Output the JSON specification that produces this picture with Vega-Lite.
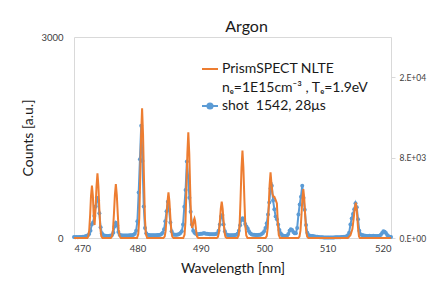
{
  "$schema": "https://vega.github.io/schema/vega-lite/v6.json",
  "width": 317,
  "height": 201,
  "autosize": {"type": "none"},
  "padding": {"left": 74, "top": 37, "right": 52, "bottom": 55},
  "background": "white",
  "title": {"text": "Argon", "fontSize": 16, "font": "Lato", "fontWeight": "normal", "color": "#1a1a1a", "anchor": "middle", "offset": -3, "dx": 14},
  "config": {
    "font": "Lato",
    "view": {"stroke": "#d9d9d9", "strokeWidth": 1},
    "axis": {"grid": false, "labelFont": "Lato", "titleFont": "Lato", "labelColor": "#404040", "titleColor": "#1a1a1a", "titleFontWeight": "normal"}
  },
  "datasets": {
    "shot": [
      {"w":470.0,"c":15},{"w":470.2,"c":12},{"w":470.4,"c":15},{"w":470.6,"c":12},{"w":470.8,"c":15},{"w":471.0,"c":14},{"w":471.2,"c":15},{"w":471.4,"c":18},{"w":471.6,"c":20},{"w":471.8,"c":25},
      {"w":472.0,"c":30},{"w":472.2,"c":40},{"w":472.4,"c":60},{"w":472.6,"c":110},{"w":472.8,"c":200},{"w":473.0,"c":230},{"w":473.2,"c":330},{"w":473.4,"c":470},{"w":473.6,"c":600},{"w":473.8,"c":560},
      {"w":474.0,"c":370},{"w":474.2,"c":160},{"w":474.4,"c":70},{"w":474.6,"c":45},{"w":474.8,"c":35},{"w":475.0,"c":32},{"w":475.2,"c":30},{"w":475.4,"c":30},{"w":475.6,"c":32},{"w":475.8,"c":35},
      {"w":476.0,"c":45},{"w":476.2,"c":80},{"w":476.4,"c":170},{"w":476.6,"c":228},{"w":476.8,"c":190},{"w":477.0,"c":90},{"w":477.2,"c":50},{"w":477.4,"c":40},{"w":477.6,"c":38},{"w":477.8,"c":38},
      {"w":478.0,"c":36},{"w":478.2,"c":36},{"w":478.4,"c":38},{"w":478.6,"c":38},{"w":478.8,"c":40},{"w":479.0,"c":40},{"w":479.2,"c":42},{"w":479.4,"c":50},{"w":479.6,"c":65},{"w":479.8,"c":110},
      {"w":480.0,"c":250},{"w":480.2,"c":680},{"w":480.4,"c":1175},{"w":480.6,"c":1677},{"w":480.8,"c":1150},{"w":481.0,"c":470},{"w":481.2,"c":150},{"w":481.4,"c":70},{"w":481.6,"c":50},{"w":481.8,"c":45},
      {"w":482.0,"c":42},{"w":482.2,"c":40},{"w":482.4,"c":40},{"w":482.6,"c":42},{"w":482.8,"c":40},{"w":483.0,"c":42},{"w":483.2,"c":45},{"w":483.4,"c":45},{"w":483.6,"c":50},{"w":483.8,"c":60},
      {"w":484.0,"c":80},{"w":484.2,"c":130},{"w":484.4,"c":250},{"w":484.6,"c":400},{"w":484.8,"c":542},{"w":485.0,"c":420},{"w":485.2,"c":230},{"w":485.4,"c":100},{"w":485.6,"c":60},{"w":485.8,"c":50},
      {"w":486.0,"c":48},{"w":486.2,"c":50},{"w":486.4,"c":52},{"w":486.6,"c":60},{"w":486.8,"c":75},{"w":487.0,"c":100},{"w":487.2,"c":200},{"w":487.4,"c":468},{"w":487.6,"c":717},{"w":487.8,"c":1140},
      {"w":488.0,"c":915},{"w":488.2,"c":600},{"w":488.4,"c":393},{"w":488.6,"c":200},{"w":488.8,"c":110},{"w":489.0,"c":80},{"w":489.2,"c":65},{"w":489.4,"c":55},{"w":489.6,"c":55},{"w":489.8,"c":60},
      {"w":490.0,"c":62},{"w":490.2,"c":65},{"w":490.4,"c":70},{"w":490.6,"c":70},{"w":490.8,"c":65},{"w":491.0,"c":62},{"w":491.2,"c":60},{"w":491.4,"c":55},{"w":491.6,"c":55},{"w":491.8,"c":55},
      {"w":492.0,"c":55},{"w":492.2,"c":55},{"w":492.4,"c":60},{"w":492.6,"c":70},{"w":492.8,"c":110},{"w":493.0,"c":200},{"w":493.2,"c":320},{"w":493.4,"c":343},{"w":493.6,"c":200},{"w":493.8,"c":100},
      {"w":494.0,"c":55},{"w":494.2,"c":45},{"w":494.4,"c":40},{"w":494.6,"c":40},{"w":494.8,"c":40},{"w":495.0,"c":40},{"w":495.2,"c":42},{"w":495.4,"c":45},{"w":495.6,"c":50},{"w":495.8,"c":65},
      {"w":496.0,"c":110},{"w":496.2,"c":190},{"w":496.4,"c":270},{"w":496.6,"c":294},{"w":496.8,"c":270},{"w":497.0,"c":210},{"w":497.2,"c":170},{"w":497.4,"c":140},{"w":497.6,"c":100},{"w":497.8,"c":70},
      {"w":498.0,"c":55},{"w":498.2,"c":50},{"w":498.4,"c":48},{"w":498.6,"c":45},{"w":498.8,"c":45},{"w":499.0,"c":45},{"w":499.2,"c":48},{"w":499.4,"c":50},{"w":499.6,"c":60},{"w":499.8,"c":75},
      {"w":500.0,"c":100},{"w":500.2,"c":150},{"w":500.4,"c":220},{"w":500.6,"c":350},{"w":500.8,"c":530},{"w":501.0,"c":740},{"w":501.2,"c":781},{"w":501.4,"c":560},{"w":501.6,"c":430},{"w":501.8,"c":320},
      {"w":502.0,"c":280},{"w":502.2,"c":200},{"w":502.4,"c":120},{"w":502.6,"c":70},{"w":502.8,"c":45},{"w":503.0,"c":35},{"w":503.2,"c":30},{"w":503.4,"c":30},{"w":503.6,"c":35},{"w":503.8,"c":60},
      {"w":504.0,"c":110},{"w":504.2,"c":130},{"w":504.4,"c":120},{"w":504.6,"c":90},{"w":504.8,"c":70},{"w":505.0,"c":70},{"w":505.2,"c":150},{"w":505.4,"c":350},{"w":505.6,"c":500},{"w":505.8,"c":617},
      {"w":506.0,"c":781},{"w":506.2,"c":600},{"w":506.4,"c":420},{"w":506.6,"c":194},{"w":506.8,"c":80},{"w":507.0,"c":45},{"w":507.2,"c":35},{"w":507.4,"c":30},{"w":507.6,"c":28},{"w":507.8,"c":25},
      {"w":508.0,"c":22},{"w":508.2,"c":20},{"w":508.4,"c":18},{"w":508.6,"c":15},{"w":508.8,"c":12},{"w":509.0,"c":10},{"w":509.2,"c":10},{"w":509.4,"c":8},{"w":509.6,"c":8},{"w":509.8,"c":8},
      {"w":510.0,"c":8},{"w":510.2,"c":8},{"w":510.4,"c":8},{"w":510.6,"c":8},{"w":510.8,"c":8},{"w":511.0,"c":8},{"w":511.2,"c":10},{"w":511.4,"c":10},{"w":511.6,"c":10},{"w":511.8,"c":12},
      {"w":512.0,"c":12},{"w":512.2,"c":14},{"w":512.4,"c":15},{"w":512.6,"c":18},{"w":512.8,"c":20},{"w":513.0,"c":25},{"w":513.2,"c":40},{"w":513.4,"c":80},{"w":513.6,"c":200},{"w":513.8,"c":290},
      {"w":514.0,"c":360},{"w":514.2,"c":430},{"w":514.4,"c":518},{"w":514.6,"c":460},{"w":514.8,"c":280},{"w":515.0,"c":110},{"w":515.2,"c":55},{"w":515.4,"c":45},{"w":515.6,"c":40},{"w":515.8,"c":35},
      {"w":516.0,"c":32},{"w":516.2,"c":30},{"w":516.4,"c":30},{"w":516.6,"c":32},{"w":516.8,"c":30},{"w":517.0,"c":30},{"w":517.2,"c":32},{"w":517.4,"c":30},{"w":517.6,"c":28},{"w":517.8,"c":28},
      {"w":518.0,"c":30},{"w":518.2,"c":35},{"w":518.4,"c":50},{"w":518.6,"c":75},{"w":518.8,"c":100},{"w":519.0,"c":95},{"w":519.2,"c":75},{"w":519.4,"c":45},{"w":519.6,"c":25},{"w":519.8,"c":18},
      {"w":520.0,"c":15}
    ],
    "nlte": [
      {"w":470.0,"v":0},{"w":472.1,"v":0},{"w":472.25,"v":160},{"w":472.4,"v":780},{"w":472.55,"v":2340},{"w":472.68,"v":4170},{"w":472.83,"v":5210},{"w":472.98,"v":4170},{"w":473.1,"v":2340},{"w":473.25,"v":1290},
      {"w":473.4,"v":2900},{"w":473.55,"v":5150},{"w":473.7,"v":6440},{"w":473.85,"v":5150},{"w":474.0,"v":2900},{"w":474.15,"v":970},{"w":474.3,"v":190},{"w":474.5,"v":0},
      {"w":475.8,"v":0},{"w":476.0,"v":161},{"w":476.15,"v":806},{"w":476.3,"v":2417},{"w":476.45,"v":4296},{"w":476.6,"v":5370},{"w":476.75,"v":4296},{"w":476.9,"v":2417},{"w":477.05,"v":806},{"w":477.2,"v":161},{"w":477.4,"v":0},
      {"w":479.94,"v":0},{"w":480.14,"v":387},{"w":480.29,"v":1935},{"w":480.44,"v":5805},{"w":480.59,"v":10320},{"w":480.74,"v":12900},{"w":480.89,"v":10320},{"w":481.04,"v":5805},{"w":481.19,"v":1935},{"w":481.34,"v":387},{"w":481.54,"v":0},
      {"w":484.1,"v":0},{"w":484.3,"v":137},{"w":484.45,"v":683},{"w":484.6,"v":2048},{"w":484.75,"v":3640},{"w":484.9,"v":4550},{"w":485.05,"v":3640},{"w":485.2,"v":2048},{"w":485.35,"v":683},{"w":485.5,"v":137},{"w":485.7,"v":0},
      {"w":487.23,"v":0},{"w":487.43,"v":316},{"w":487.58,"v":1578},{"w":487.73,"v":4734},{"w":487.88,"v":8416},{"w":488.03,"v":10520},{"w":488.18,"v":8416},{"w":488.33,"v":4734},{"w":488.48,"v":1578},{"w":488.63,"v":1000},
      {"w":488.8,"v":1400},{"w":488.9,"v":1800},{"w":489.0,"v":1960},{"w":489.1,"v":1700},{"w":489.25,"v":800},{"w":489.4,"v":150},{"w":489.6,"v":0},
      {"w":492.5,"v":0},{"w":492.7,"v":108},{"w":492.85,"v":542},{"w":493.0,"v":1625},{"w":493.15,"v":2888},{"w":493.3,"v":3610},{"w":493.45,"v":2888},{"w":493.6,"v":1625},{"w":493.75,"v":542},{"w":493.9,"v":108},{"w":494.1,"v":0},
      {"w":495.77,"v":0},{"w":495.97,"v":261},{"w":496.12,"v":1304},{"w":496.27,"v":3911},{"w":496.42,"v":6952},{"w":496.57,"v":8690},{"w":496.72,"v":6952},{"w":496.87,"v":3911},{"w":497.02,"v":1304},{"w":497.17,"v":261},{"w":497.37,"v":0},
      {"w":500.2,"v":0},{"w":500.4,"v":196},{"w":500.55,"v":981},{"w":500.7,"v":2943},{"w":500.85,"v":5232},{"w":501.0,"v":6540},{"w":501.15,"v":5400},{"w":501.3,"v":4400},{"w":501.45,"v":4100},{"w":501.6,"v":4100},
      {"w":501.8,"v":3800},{"w":502.0,"v":3450},{"w":502.15,"v":1500},{"w":502.3,"v":300},{"w":502.5,"v":0},
      {"w":505.37,"v":0},{"w":505.57,"v":146},{"w":505.72,"v":731},{"w":505.87,"v":2192},{"w":506.02,"v":3896},{"w":506.17,"v":4870},{"w":506.32,"v":3896},{"w":506.47,"v":2192},{"w":506.62,"v":731},{"w":506.77,"v":146},{"w":506.97,"v":0},
      {"w":513.2,"v":0},{"w":513.6,"v":267},{"w":513.9,"v":867},{"w":514.1,"v":1867},{"w":514.3,"v":3000},{"w":514.45,"v":3513},{"w":514.6,"v":2800},{"w":514.8,"v":1000},{"w":514.95,"v":150},{"w":515.1,"v":0},
      {"w":520.0,"v":0}
    ]
  },
  "layer": [
    {
      "data": {"name": "shot"},
      "mark": {"type": "line", "strokeWidth": 2, "point": {"filled": true, "size": 16, "opacity": 1}},
      "encoding": {
        "x": {"field": "w", "type": "quantitative", "scale": {"domain": [470, 520], "nice": false},
              "axis": {"values": [470, 480, 490, 500, 510, 520], "title": "Wavelength [nm]", "titleFontSize": 14, "labelFontSize": 9.5, "ticks": false, "tickSize": 0, "labelPadding": 5, "titlePadding": 9, "domainColor": "#d9d9d9"}},
        "y": {"field": "c", "type": "quantitative", "scale": {"domain": [0, 3000], "nice": false},
              "axis": {"values": [0, 3000], "format": "d", "title": "Counts [a.u.]", "titleFontSize": 14, "labelFontSize": 9.5, "ticks": false, "tickSize": 0, "labelPadding": 11, "titlePadding": 5, "domain": false}},
        "color": {"datum": "shot\u00a0 1542, 28μs", "type": "nominal",
          "scale": {"domain": ["PrismSPECT NLTE", "nₑ=1E15cm⁻³ , Tₑ=1.9eV", "shot\u00a0 1542, 28μs"], "range": ["#ED7D31", "rgba(0,0,0,0)", "#5B9BD5"]},
          "legend": {
            "orient": "none", "legendX": 127, "legendY": 23, "title": null,
            "labelFontSize": 14, "labelFont": "Lato", "labelColor": "#1a1a1a", "labelLimit": 300,
            "symbolType": "stroke",
            "symbolSize": 256, "symbolStrokeWidth": 2, "rowPadding": 2.5, "labelOffset": 3, "padding": 0,
            "encode": {"symbols": {"update": {
              "shape": {"signal": "datum.value === 'shot\u00a0 1542, 28μs' ? 'M-1,0H1M0.32,0A0.32,0.32,0,1,1,-0.32,0A0.32,0.32,0,1,1,0.32,0Z' : 'M-1,0H1'"},
              "size": {"value": 256},
              "fill": {"signal": "datum.value === 'shot\u00a0 1542, 28μs' ? '#5B9BD5' : 'transparent'"},
              "stroke": {"signal": "datum.value === 'shot\u00a0 1542, 28μs' ? '#5B9BD5' : (datum.value === 'PrismSPECT NLTE' ? '#ED7D31' : 'transparent')"},
              "strokeWidth": {"value": 2},
              "strokeOpacity": {"value": 1},
              "fillOpacity": {"value": 1},
              "opacity": {"value": 1}
            }}}
          }}
      }
    },
    {
      "data": {"name": "nlte"},
      "mark": {"type": "line", "strokeWidth": 2},
      "encoding": {
        "x": {"field": "w", "type": "quantitative"},
        "y": {"field": "v", "type": "quantitative", "scale": {"domain": [0, 20000], "nice": false},
              "axis": {"orient": "right", "values": [0, 8000, 16000], "title": null, "labelFontSize": 8.5, "ticks": true, "tickSize": 4, "tickColor": "#d9d9d9", "labelPadding": 4, "domain": false,
                       "labelExpr": "replace(format(datum.value, '.0e'), 'e+', '.E+0')"}},
        "color": {"datum": "PrismSPECT NLTE", "type": "nominal"}
      }
    }
  ],
  "resolve": {"scale": {"y": "independent"}}
}
